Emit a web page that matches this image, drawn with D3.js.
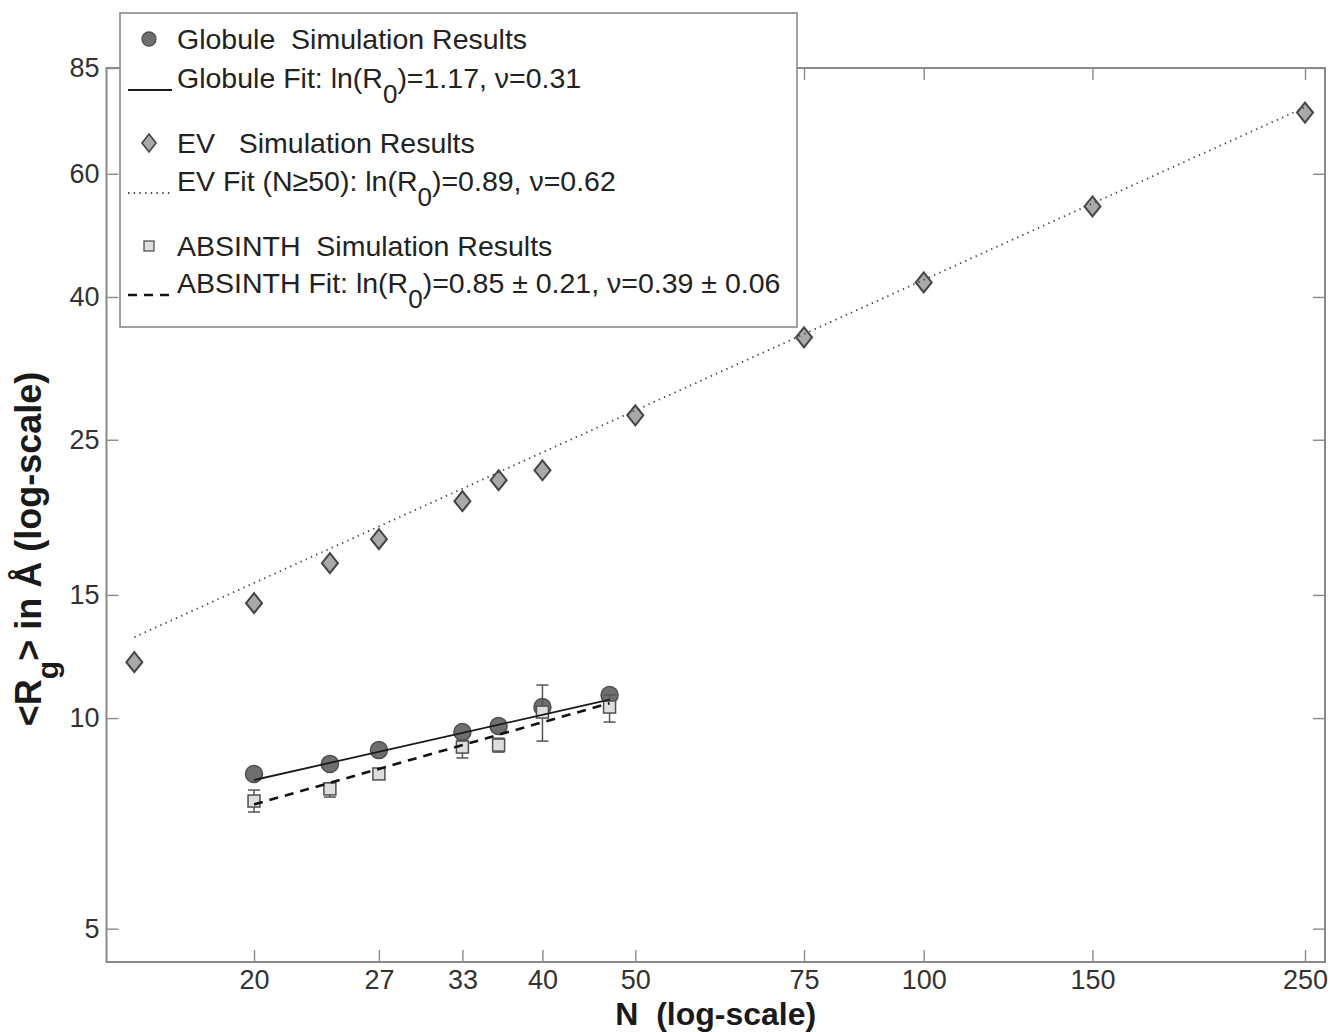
<!DOCTYPE html>
<html>
<head>
<meta charset="utf-8">
<script src="https://cdn.jsdelivr.net/npm/d3@7"></script>
<style>
  html, body { margin: 0; padding: 0; background: #fff; }
  svg { display: block; }
  text { font-family: "Liberation Sans", Arial, Helvetica, sans-serif; }
</style>
</head>
<body>
<svg id="chart" width="1332" height="1032"></svg>
<script>
// ---- tick values ----
const xTicks = [20, 27, 33, 40, 50, 75, 100, 150, 250];
const yTicks = [5, 10, 15, 25, 40, 60, 85];

// ---- globule simulation results ----
const globuleN  = [20, 24, 27, 33, 36, 40, 47];
const globuleRg = [8.32, 8.60, 9.00, 9.55, 9.74, 10.37, 10.79];

// ---- EV simulation results ----
const evN  = [15, 20, 24, 27, 33, 36, 40, 50, 75, 100, 150, 250];
const evRg = [12.02, 14.60, 16.65, 18.02, 20.42, 21.88, 22.61, 27.09, 35.02, 41.96, 53.88, 73.40];

// ---- ABSINTH simulation results with error bars ----
const absinthN  = [20, 24, 27, 33, 36, 40, 47];
const absinthRg = [7.61, 7.92, 8.32, 9.09, 9.15, 10.20, 10.37];
const absinthLo = [7.34, 7.71, 8.20, 8.77, 8.94, 9.27, 9.87];
const absinthHi = [7.89, 8.08, 8.45, 9.30, 9.36, 11.15, 10.79];

// ---- power-law fits  Rg = R0 * N^nu ----
const fitLabel  = ["Globule Fit: ", "EV Fit (N\u226550): ", "ABSINTH Fit: "];
const fitLnR0   = [1.17, 0.89, 0.85];
const fitLnR0Er = [null, null, 0.21];
const fitNu     = [0.31, 0.62, 0.39];
const fitNuEr   = [null, null, 0.06];
const fitNmin   = [20, 15, 20];
const fitNmax   = [47, 250, 47];

// ---- legend titles for the simulation series ----
const seriesLabel = ["Globule  Simulation Results", "EV   Simulation Results", "ABSINTH  Simulation Results"];

// ---- layout ----
const svg = d3.select("#chart");
const L = 106.5, R = 1325, T = 68, B = 962;

const x = d3.scaleLog().domain([14.03, 262.3]).range([L, R]);
const y = d3.scaleLog().domain([4.48, 85]).range([B, T]);

const frameColor = "#8a8a8a";
const tickText = "#333";

function styleAxis(g, showText) {
  g.select(".domain").remove();
  g.selectAll(".tick line").attr("stroke", frameColor).attr("stroke-width", 1.4);
  g.selectAll(".tick text")
    .attr("fill", tickText)
    .style("font-size", "27px")
    .style("display", showText ? null : "none");
}

const fmt = d3.format("d");

svg.append("g").attr("transform", `translate(0,${B})`)
  .call(d3.axisBottom(x).tickValues(xTicks).tickFormat(fmt).tickSizeInner(-12).tickSizeOuter(0).tickPadding(8))
  .call(g => styleAxis(g, true));
svg.append("g").attr("transform", `translate(0,${T})`)
  .call(d3.axisTop(x).tickValues(xTicks).tickFormat("").tickSizeInner(-12).tickSizeOuter(0))
  .call(g => styleAxis(g, false));
svg.append("g").attr("transform", `translate(${L},0)`)
  .call(d3.axisLeft(y).tickValues(yTicks).tickFormat(fmt).tickSizeInner(-12).tickSizeOuter(0).tickPadding(7))
  .call(g => styleAxis(g, true));
svg.append("g").attr("transform", `translate(${R},0)`)
  .call(d3.axisRight(y).tickValues(yTicks).tickFormat("").tickSizeInner(-12).tickSizeOuter(0))
  .call(g => styleAxis(g, false));

svg.append("rect")
  .attr("x", L).attr("y", T).attr("width", R - L).attr("height", B - T)
  .attr("fill", "none").attr("stroke", frameColor).attr("stroke-width", 2);

// ---- markers ----
const plot = svg.append("g");

// globule circles
plot.append("g").selectAll("circle")
  .data(d3.zip(globuleN, globuleRg))
  .join("circle")
  .attr("cx", d => x(d[0])).attr("cy", d => y(d[1])).attr("r", 8.5)
  .attr("fill", "#6f6f6f").attr("stroke", "#4e4e4e").attr("stroke-width", 1.5);

// ABSINTH error bars
const ab = d3.range(absinthN.length).map(i => ({ n: absinthN[i], v: absinthRg[i], lo: absinthLo[i], hi: absinthHi[i] }));
const eb = plot.append("g").attr("stroke", "#555").attr("stroke-width", 1.5);
eb.selectAll("line.v").data(ab).join("line").attr("class", "v")
  .attr("x1", d => x(d.n)).attr("x2", d => x(d.n))
  .attr("y1", d => y(d.lo)).attr("y2", d => y(d.hi));
eb.selectAll("line.lo").data(ab).join("line").attr("class", "lo")
  .attr("x1", d => x(d.n) - 6).attr("x2", d => x(d.n) + 6)
  .attr("y1", d => y(d.lo)).attr("y2", d => y(d.lo));
eb.selectAll("line.hi").data(ab).join("line").attr("class", "hi")
  .attr("x1", d => x(d.n) - 6).attr("x2", d => x(d.n) + 6)
  .attr("y1", d => y(d.hi)).attr("y2", d => y(d.hi));

// ABSINTH squares
plot.append("g").selectAll("rect")
  .data(ab)
  .join("rect")
  .attr("x", d => x(d.n) - 6).attr("y", d => y(d.v) - 6)
  .attr("width", 12).attr("height", 12)
  .attr("fill", "#dedede").attr("stroke", "#505050").attr("stroke-width", 1.5);

// EV diamonds
const diamond = (hw, hh) => `M0,${-hh}L${hw},0L0,${hh}L${-hw},0Z`;
plot.append("g").selectAll("path")
  .data(d3.zip(evN, evRg))
  .join("path")
  .attr("transform", d => `translate(${x(d[0])},${y(d[1])})`)
  .attr("d", diamond(8, 10))
  .attr("fill", "#a9a9a9").attr("stroke", "#454545").attr("stroke-width", 2);

// ---- fit lines ----
const fitStyle = [
  { stroke: "#1a1a1a", width: 1.8, dash: null },
  { stroke: "#4a4a4a", width: 1.8, dash: "1.4,4.3" },
  { stroke: "#111", width: 2.6, dash: "9,7" }
];
const line = d3.line().x(d => x(d[0])).y(d => y(d[1]));
fitLnR0.forEach((lr, i) => {
  const ends = [fitNmin[i], fitNmax[i]].map(n => [n, Math.exp(lr) * Math.pow(n, fitNu[i])]);
  plot.append("path")
    .attr("d", line(ends))
    .attr("fill", "none")
    .attr("stroke", fitStyle[i].stroke)
    .attr("stroke-width", fitStyle[i].width)
    .attr("stroke-dasharray", fitStyle[i].dash);
});

// ---- axis titles ----
svg.append("text")
  .attr("x", (L + R) / 2).attr("y", 1025)
  .attr("text-anchor", "middle")
  .style("white-space", "pre")
  .style("font-size", "32px").style("font-weight", "bold").attr("fill", "#1a1a1a")
  .text("N  (log-scale)");

const yt = svg.append("text")
  .attr("transform", "translate(41,549) rotate(-90)")
  .attr("text-anchor", "middle")
  .style("font-size", "36px").style("font-weight", "bold").attr("fill", "#1a1a1a");
yt.append("tspan").text("<R");
yt.append("tspan").attr("dy", 17).style("font-size", "30px").text("g");
yt.append("tspan").attr("dy", -17).text("> in \u00C5 (log-scale)");

// ---- legend ----
const lg = svg.append("g");
lg.append("rect")
  .attr("x", 120).attr("y", 13).attr("width", 677).attr("height", 314)
  .attr("fill", "#fff").attr("stroke", frameColor).attr("stroke-width", 1.6);

const rowBase = [[49, 88], [153, 191], [256, 293]];
const mx = 149, lx0 = 128, lx1 = 172, tx = 177;

// symbols
lg.append("circle").attr("cx", mx).attr("cy", rowBase[0][0] - 10).attr("r", 7)
  .attr("fill", "#6f6f6f").attr("stroke", "#4e4e4e").attr("stroke-width", 1.3);
lg.append("path").attr("transform", `translate(${mx},${rowBase[1][0] - 10})`).attr("d", diamond(7, 9))
  .attr("fill", "#a9a9a9").attr("stroke", "#454545").attr("stroke-width", 1.6);
lg.append("rect").attr("x", mx - 5).attr("y", rowBase[2][0] - 15).attr("width", 10).attr("height", 10)
  .attr("fill", "#dedede").attr("stroke", "#505050").attr("stroke-width", 1.3);

rowBase.forEach((rb, i) => {
  lg.append("text").attr("x", tx).attr("y", rb[0])
    .style("white-space", "pre").style("font-size", "28.5px").attr("fill", "#222")
    .text(seriesLabel[i]);

  lg.append("line")
    .attr("x1", lx0).attr("x2", lx1).attr("y1", rb[1] + 2).attr("y2", rb[1] + 2)
    .attr("stroke", fitStyle[i].stroke).attr("stroke-width", fitStyle[i].width)
    .attr("stroke-dasharray", fitStyle[i].dash);

  const t = lg.append("text").attr("x", tx).attr("y", rb[1])
    .style("white-space", "pre").style("font-size", "28.5px").attr("fill", "#222");
  const pm = (v, e) => e == null ? v.toFixed(2) : `${v.toFixed(2)} \u00B1 ${e.toFixed(2)}`;
  t.append("tspan").text(fitLabel[i] + "ln(R");
  t.append("tspan").attr("dy", 15).style("font-size", "26px").text("0");
  t.append("tspan").attr("dy", -15).text(`)=${pm(fitLnR0[i], fitLnR0Er[i])}, \u03BD=${pm(fitNu[i], fitNuEr[i])}`);
});
</script>
</body>
</html>
